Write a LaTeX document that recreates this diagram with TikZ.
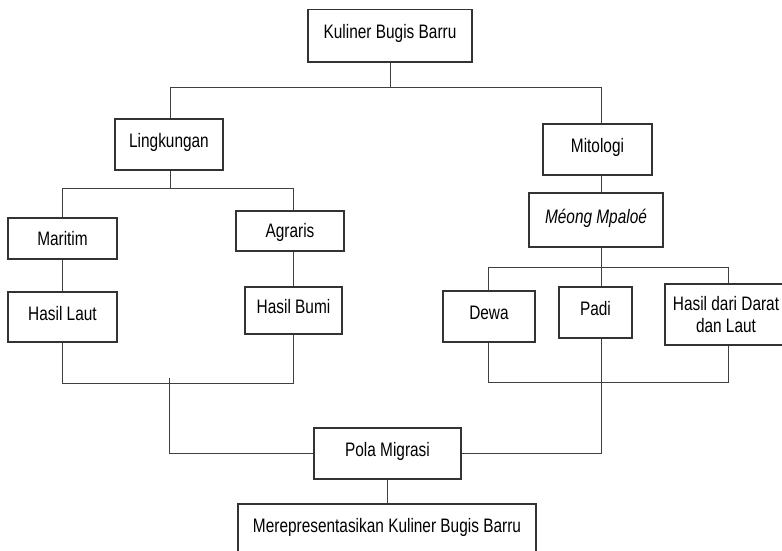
\documentclass[tikz,border=0pt]{standalone}
\usepackage{fontspec}
\setmainfont[FakeStretch=0.79]{Liberation Sans}
\begin{document}
\begin{tikzpicture}[x=1pt,y=-1pt,
  box/.style={draw=black!80,line width=1.1pt,inner sep=0pt,text=black,
    font=\fontsize{19.5}{22}\selectfont,text height=14pt,text depth=8pt},
  cbox/.style={box,text depth=1pt},
  mbox/.style={draw=black!80,line width=1.1pt,inner sep=0pt,text=black,
    font=\fontsize{19.5}{22}\selectfont,align=center},
  ln/.style={draw=black!75,line width=1pt}]
\useasboundingbox (0,0) rectangle (782,551);
\fill[white] (0,0) rectangle (782,551);
% nodes
\node[box,minimum width=164pt,minimum height=52.5pt] (top) at (390,35.75) {Kuliner Bugis Barru};
\node[box,minimum width=108pt,minimum height=51pt] (ling) at (169,144.5) {Lingkungan};
\node[box,minimum width=109pt,minimum height=51pt] (mit) at (597.5,149.5) {Mitologi};
\node[box,minimum width=134pt,minimum height=54pt] (meo) at (596,220) {\itshape Méong Mpaloé};
\node[cbox,minimum width=109pt,minimum height=41pt] (mar) at (62.5,238.5) {Maritim};
\node[cbox,minimum width=108pt,minimum height=40pt] (agr) at (290,231) {Agraris};
\node[box,minimum width=109pt,minimum height=50pt] (hl) at (62.5,317) {Hasil Laut};
\node[box,minimum width=97pt,minimum height=47pt] (hb) at (293.5,310.5) {Hasil Bumi};
\node[box,minimum width=92pt,minimum height=51pt] (dewa) at (489,316.5) {Dewa};
\node[box,minimum width=73pt,minimum height=51pt] (padi) at (595.5,312.5) {Padi};
\node[mbox,minimum width=122pt,minimum height=61pt] (hdd) at (726,314.5) {Hasil dari Darat\\dan Laut};
\node[box,minimum width=147pt,minimum height=51pt] (pola) at (387.5,453.5) {Pola Migrasi};
\node[box,minimum width=298pt,minimum height=50pt] (bot) at (387,529) {Merepresentasikan Kuliner Bugis Barru};
% bus coordinates
\coordinate (b1l) at (170,88);
\coordinate (b1r) at (601,88);
\coordinate (b2l) at (62,188);
\coordinate (b2r) at (293,188);
\coordinate (b3l) at (488,267);
\coordinate (b3r) at (728,267);
\coordinate (b4l) at (62,383);
\coordinate (b4r) at (293,383);
\coordinate (b5l) at (488,382);
\coordinate (b5r) at (728,382);
\coordinate (m4) at (169,378);
% connectors
\draw[ln] (top.south) -- (top.south |- b1l);
\draw[ln] (b1l |- ling.north) -- (b1l) -- (b1r) -- (b1r |- mit.north);
\draw[ln] (b1l |- ling.south) -- (b1l |- b2l);
\draw[ln] (b2l |- mar.north) -- (b2l) -- (b2r) -- (b2r |- agr.north);
\draw[ln] (b2l |- mar.south) -- (b2l |- hl.north);
\draw[ln] (b2r |- agr.south) -- (b2r |- hb.north);
\draw[ln] (b2l |- hl.south) -- (b4l) -- (b4r) -- (b2r |- hb.south);
\draw[ln] (m4) -- (m4 |- pola.west) -- (pola.west);
\draw[ln] (b1r |- mit.south) -- (b1r |- meo.north);
\draw[ln] (b1r |- meo.south) -- (b1r |- b3l);
\draw[ln] (b3l |- dewa.north) -- (b3l) -- (b3r) -- (b3r |- hdd.north);
\draw[ln] (b1r |- b3l) -- (b1r |- padi.north);
\draw[ln] (b3l |- dewa.south) -- (b5l) -- (b5r) -- (b3r |- hdd.south);
\draw[ln] (b1r |- padi.south) -- (b1r |- pola.east) -- (pola.east);
\draw[ln] (pola.south) -- (pola.south |- bot.north);
\end{tikzpicture}
\end{document}
